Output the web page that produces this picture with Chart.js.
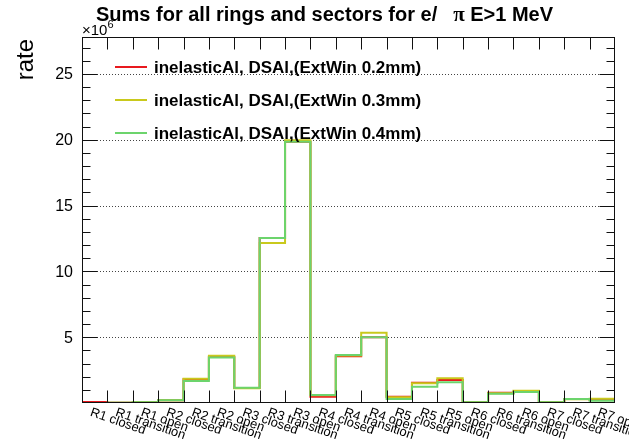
<!DOCTYPE html>
<html>
<head>
<meta charset="utf-8">
<script src="https://cdn.jsdelivr.net/npm/chart.js@4.4.0/dist/chart.umd.min.js"></script>
<style>
  html, body { margin: 0; padding: 0; background: #fff; }
</style>
</head>
<body>
<canvas id="ratesChart" width="629" height="439"></canvas>
<script>
// bins: rings x sectors
const binLabels = [
    'R1 closed', 'R1 transition', 'R1 open',
    'R2 closed', 'R2 transition', 'R2 open',
    'R3 closed', 'R3 transition', 'R3 open',
    'R4 closed', 'R4 transition', 'R4 open',
    'R5 closed', 'R5 transition', 'R5 open',
    'R6 closed', 'R6 transition', 'R6 open',
    'R7 closed', 'R7 transition', 'R7 open'
]
// rate in units of 1e6
const rateExt02 = [0.08, 0.02, 0.05, 0.2, 1.80, 3.50, 1.14, 12.54, 19.85, 0.48, 3.55, 4.99, 0.48, 1.54, 1.75, 0.06, 0.78, 0.86, 0.05, 0.30, 0.22]
const rateExt03 = [0, 0.02, 0.05, 0.2, 1.85, 3.59, 1.12, 12.16, 19.95, 0.58, 3.60, 5.34, 0.43, 1.50, 1.88, 0.06, 0.74, 0.93, 0.05, 0.28, 0.33]
const rateExt04 = [0, 0.02, 0.05, 0.2, 1.67, 3.46, 1.16, 12.54, 19.85, 0.61, 3.65, 4.99, 0.30, 1.24, 1.57, 0.06, 0.71, 0.84, 0.05, 0.30, 0.17]
const seriesNames = [
    'inelasticAl, DSAl,(ExtWin 0.2mm)',
    'inelasticAl, DSAl,(ExtWin 0.3mm)',
    'inelasticAl, DSAl,(ExtWin 0.4mm)'
]
const yTicks = [5, 10, 15, 20, 25]
const yMax = 27.8

const colors = ['#e8191e', '#c9c91c', '#6cd46c']
const FONT = '"Liberation Sans", Arial, sans-serif'

// histogram outline: one point per left bin edge, plus the closing edge
function toSteps(vals) {
    const pts = vals.map((v, i) => ({ x: i, y: v }))
    pts.push({ x: vals.length, y: vals[vals.length - 1] })
    return pts
}

const rootStyle = {
    id: 'rootStyle',
    beforeDatasetsDraw(chart) {
        const { ctx, chartArea: a, scales: { y } } = chart
        ctx.save()
        ctx.strokeStyle = '#444'
        ctx.lineWidth = 1
        ctx.setLineDash([1, 2])
        yTicks.forEach(v => {
            const py = Math.round(y.getPixelForValue(v)) + 0.5
            ctx.beginPath()
            ctx.moveTo(a.left, py)
            ctx.lineTo(a.right, py)
            ctx.stroke()
        })
        ctx.restore()
    },
    afterDatasetsDraw(chart) {
        const { ctx, chartArea: a, scales: { x, y } } = chart
        ctx.save()
        ctx.strokeStyle = '#111'
        ctx.lineWidth = 1
        const L = Math.round(a.left) + 0.5, R = Math.round(a.right) - 0.5
        const T = Math.round(a.top) + 0.5, B = Math.round(a.bottom) - 0.5
        ctx.strokeRect(L, T, R - L, B - T)

        // y ticks on both sides, pointing inwards
        ctx.beginPath()
        for (let v = 1; v < yMax; v++) {
            const py = Math.round(y.getPixelForValue(v)) + 0.5
            const len = v % 5 === 0 ? 15 : 8
            ctx.moveTo(L, py); ctx.lineTo(L + len, py)
            ctx.moveTo(R, py); ctx.lineTo(R - len, py)
        }
        // x ticks at bin edges, top and bottom
        for (let i = 1; i < binLabels.length; i++) {
            const px = Math.round(x.getPixelForValue(i)) + 0.5
            ctx.moveTo(px, T); ctx.lineTo(px, T + 12)
            ctx.moveTo(px, B); ctx.lineTo(px, B - 12)
        }
        ctx.stroke()

        ctx.fillStyle = '#000'

        // y tick labels
        ctx.font = '16px ' + FONT
        ctx.textAlign = 'right'
        ctx.textBaseline = 'middle'
        yTicks.forEach(v => {
            ctx.fillText(String(v), a.left - 9, y.getPixelForValue(v) + 1)
        })

        // bin labels, tilted
        ctx.font = '13px ' + FONT
        ctx.textAlign = 'left'
        ctx.textBaseline = 'top'
        binLabels.forEach((lab, i) => {
            const px = x.getPixelForValue(i + 0.5) - 2
            ctx.save()
            ctx.translate(px, a.bottom + 3)
            ctx.rotate(19 * Math.PI / 180)
            ctx.fillText(lab, 0, 0)
            ctx.restore()
        })

        // title
        ctx.textBaseline = 'alphabetic'
        ctx.font = 'bold 20px ' + FONT
        let tx = 96
        const part1 = 'Sums for all rings and sectors for e/'
        ctx.fillText(part1, tx, 21)
        tx += ctx.measureText(part1).width + 16
        ctx.font = 'bold 21px "Liberation Serif", serif'
        ctx.fillText('\u03c0', tx, 21)
        tx += ctx.measureText('\u03c0').width
        ctx.font = 'bold 20px ' + FONT
        ctx.fillText(' E>1 MeV', tx, 21)

        // exponent
        ctx.font = '15px ' + FONT
        ctx.fillText('\u00d710', 82, 35)
        const ew = ctx.measureText('\u00d710').width
        ctx.font = '11px ' + FONT
        ctx.fillText('6', 82 + ew, 28)

        // y title
        ctx.save()
        ctx.translate(33, a.top + 2)
        ctx.rotate(-Math.PI / 2)
        ctx.font = '24px ' + FONT
        ctx.textAlign = 'right'
        ctx.fillText('rate', 0, 0)
        ctx.restore()

        // legend
        ctx.font = 'bold 17px ' + FONT
        ctx.textBaseline = 'middle'
        seriesNames.forEach((name, k) => {
            const ly = 67 + 33 * k
            ctx.strokeStyle = colors[k]
            ctx.lineWidth = 2
            ctx.beginPath()
            ctx.moveTo(115, ly)
            ctx.lineTo(147, ly)
            ctx.stroke()
            ctx.fillText(name, 154, ly + 1)
        })
        ctx.restore()
    }
}

const ctx = document.getElementById('ratesChart').getContext('2d')

new Chart(ctx, {
    type: 'line',
    data: {
        datasets: [rateExt02, rateExt03, rateExt04].map((vals, k) => ({
            label: seriesNames[k],
            data: toSteps(vals),
            borderColor: colors[k],
            borderWidth: 2,
            pointRadius: 0,
            stepped: 'before',
            fill: false,
            order: 2 - k
        }))
    },
    options: {
        responsive: false,
        animation: false,
        layout: { padding: { left: 82, right: 14, top: 37, bottom: 36 } },
        plugins: {
            legend: { display: false },
            title: { display: false },
            tooltip: { enabled: false }
        },
        scales: {
            x: {
                type: 'linear',
                min: 0,
                max: binLabels.length,
                display: false
            },
            y: {
                type: 'linear',
                min: 0,
                max: yMax,
                display: false
            }
        }
    },
    plugins: [rootStyle]
})
</script>
</body>
</html>
